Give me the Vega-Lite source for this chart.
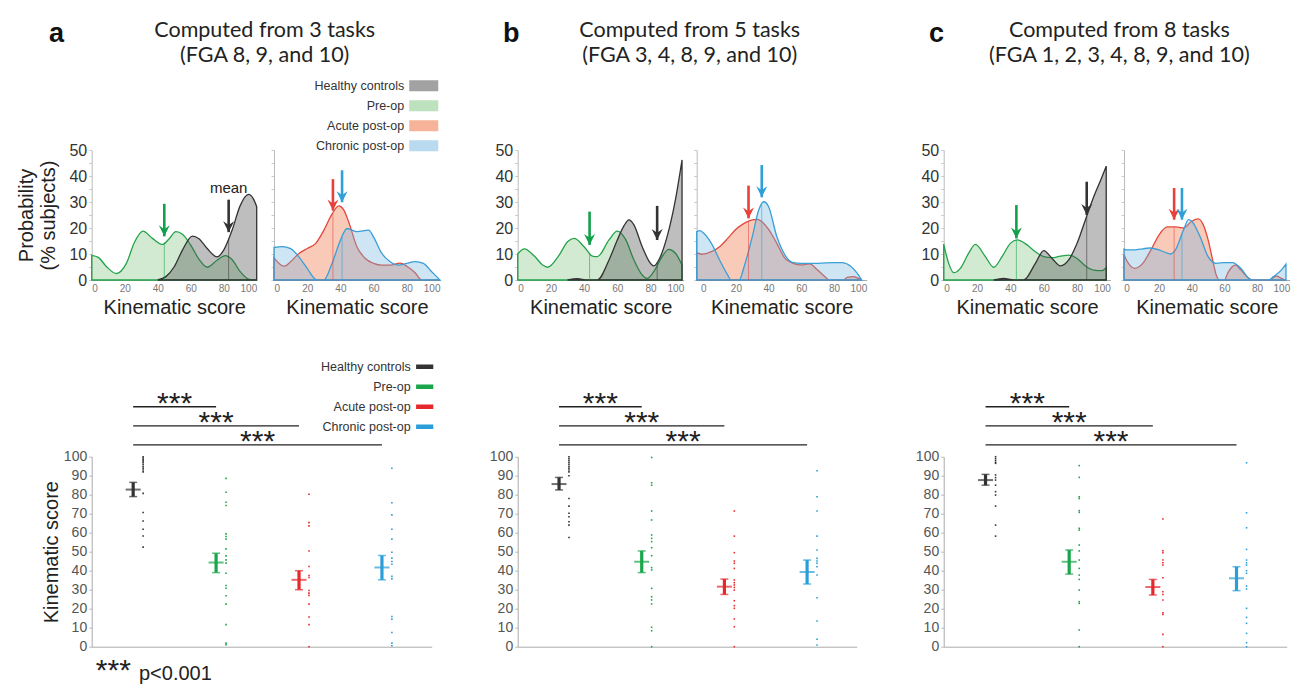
{
"$schema":"https://vega.github.io/schema/vega-lite/v6.json",
"autosize":{"type":"none"},
"padding":{"left":91.7,"top":150,"right":1217.3,"bottom":537},
"background":"white",
"config":{"view":{"stroke":null},"axis":{"grid":false,"labelOverlap":false,"labelFont":"Liberation Sans","titleFont":"Liberation Sans","titleFontWeight":"normal"},"title":{"font":"Lato","fontWeight":"normal","color":"#222"},"legend":{"labelFont":"Liberation Sans"},"text":{"font":"Liberation Sans"}},
"datasets":{
"dens":[
{"p":"a","s":"L","g":"P","k":0,"v":9.5},{"p":"a","s":"L","g":"P","k":4,"v":8.7},{"p":"a","s":"L","g":"P","k":9,"v":5.1},{"p":"a","s":"L","g":"P","k":15,"v":2.5},{"p":"a","s":"L","g":"P","k":21,"v":6.4},{"p":"a","s":"L","g":"P","k":26,"v":14.6},{"p":"a","s":"L","g":"P","k":31,"v":18.8},{"p":"a","s":"L","g":"P","k":37,"v":15.9},{"p":"a","s":"L","g":"P","k":43,"v":13.7},{"p":"a","s":"L","g":"P","k":47,"v":15.9},{"p":"a","s":"L","g":"P","k":51,"v":18.6},{"p":"a","s":"L","g":"P","k":55,"v":17.6},{"p":"a","s":"L","g":"P","k":60,"v":13.4},{"p":"a","s":"L","g":"P","k":65,"v":8},{"p":"a","s":"L","g":"P","k":70,"v":4.9},{"p":"a","s":"L","g":"P","k":76,"v":7.6},{"p":"a","s":"L","g":"P","k":81,"v":9.4},{"p":"a","s":"L","g":"P","k":85,"v":7.9},{"p":"a","s":"L","g":"P","k":90,"v":3.2},{"p":"a","s":"L","g":"P","k":95,"v":0.3},{"p":"a","s":"L","g":"P","k":97,"v":0},{"p":"a","s":"L","g":"P","k":100,"v":0},
{"p":"a","s":"L","g":"H","k":40,"v":0},{"p":"a","s":"L","g":"H","k":45,"v":1.3},{"p":"a","s":"L","g":"H","k":50,"v":5.1},{"p":"a","s":"L","g":"H","k":55,"v":11.5},{"p":"a","s":"L","g":"H","k":61,"v":16.9},{"p":"a","s":"L","g":"H","k":65,"v":15.9},{"p":"a","s":"L","g":"H","k":70,"v":12.1},{"p":"a","s":"L","g":"H","k":76,"v":8.9},{"p":"a","s":"L","g":"H","k":80,"v":11.5},{"p":"a","s":"L","g":"H","k":85,"v":19},{"p":"a","s":"L","g":"H","k":90,"v":28.6},{"p":"a","s":"L","g":"H","k":95,"v":32.9},{"p":"a","s":"L","g":"H","k":98,"v":31.2},{"p":"a","s":"L","g":"H","k":100,"v":28.2},
{"p":"a","s":"R","g":"A","k":0,"v":8.5},{"p":"a","s":"R","g":"A","k":6,"v":5.3},{"p":"a","s":"R","g":"A","k":10,"v":7},{"p":"a","s":"R","g":"A","k":15,"v":10.2},{"p":"a","s":"R","g":"A","k":20,"v":12.1},{"p":"a","s":"R","g":"A","k":25,"v":14},{"p":"a","s":"R","g":"A","k":30,"v":19.1},{"p":"a","s":"R","g":"A","k":35,"v":25.4},{"p":"a","s":"R","g":"A","k":39,"v":28.5},{"p":"a","s":"R","g":"A","k":42,"v":27},{"p":"a","s":"R","g":"A","k":45,"v":22.3},{"p":"a","s":"R","g":"A","k":50,"v":12.7},{"p":"a","s":"R","g":"A","k":55,"v":8.3},{"p":"a","s":"R","g":"A","k":60,"v":6.4},{"p":"a","s":"R","g":"A","k":65,"v":5.7},{"p":"a","s":"R","g":"A","k":70,"v":5.7},{"p":"a","s":"R","g":"A","k":76,"v":6.5},{"p":"a","s":"R","g":"A","k":80,"v":5.3},{"p":"a","s":"R","g":"A","k":85,"v":2.8},{"p":"a","s":"R","g":"A","k":89,"v":0},{"p":"a","s":"R","g":"A","k":100,"v":0},
{"p":"a","s":"R","g":"C","k":0,"v":12.5},{"p":"a","s":"R","g":"C","k":5,"v":12.8},{"p":"a","s":"R","g":"C","k":10,"v":12.1},{"p":"a","s":"R","g":"C","k":15,"v":8.9},{"p":"a","s":"R","g":"C","k":20,"v":4.5},{"p":"a","s":"R","g":"C","k":25,"v":0.3},{"p":"a","s":"R","g":"C","k":27,"v":0},{"p":"a","s":"R","g":"C","k":30,"v":0},{"p":"a","s":"R","g":"C","k":35,"v":6.4},{"p":"a","s":"R","g":"C","k":40,"v":15.3},{"p":"a","s":"R","g":"C","k":44,"v":19.8},{"p":"a","s":"R","g":"C","k":50,"v":18.6},{"p":"a","s":"R","g":"C","k":57,"v":19.2},{"p":"a","s":"R","g":"C","k":60,"v":16.5},{"p":"a","s":"R","g":"C","k":65,"v":10.2},{"p":"a","s":"R","g":"C","k":70,"v":7},{"p":"a","s":"R","g":"C","k":75,"v":5.7},{"p":"a","s":"R","g":"C","k":80,"v":6.4},{"p":"a","s":"R","g":"C","k":85,"v":7.1},{"p":"a","s":"R","g":"C","k":90,"v":6.4},{"p":"a","s":"R","g":"C","k":95,"v":3.2},{"p":"a","s":"R","g":"C","k":100,"v":0},
{"p":"b","s":"L","g":"P","k":0,"v":10},{"p":"b","s":"L","g":"P","k":4,"v":12},{"p":"b","s":"L","g":"P","k":10,"v":9.2},{"p":"b","s":"L","g":"P","k":15,"v":5.8},{"p":"b","s":"L","g":"P","k":18,"v":4.9},{"p":"b","s":"L","g":"P","k":25,"v":9.6},{"p":"b","s":"L","g":"P","k":30,"v":14.7},{"p":"b","s":"L","g":"P","k":34,"v":16},{"p":"b","s":"L","g":"P","k":40,"v":12.8},{"p":"b","s":"L","g":"P","k":45,"v":9.2},{"p":"b","s":"L","g":"P","k":48,"v":9},{"p":"b","s":"L","g":"P","k":55,"v":15.4},{"p":"b","s":"L","g":"P","k":60,"v":18.8},{"p":"b","s":"L","g":"P","k":65,"v":15.6},{"p":"b","s":"L","g":"P","k":70,"v":7.7},{"p":"b","s":"L","g":"P","k":75,"v":1.9},{"p":"b","s":"L","g":"P","k":78,"v":0.6},{"p":"b","s":"L","g":"P","k":82,"v":3.2},{"p":"b","s":"L","g":"P","k":87,"v":9},{"p":"b","s":"L","g":"P","k":91,"v":11.8},{"p":"b","s":"L","g":"P","k":95,"v":10.3},{"p":"b","s":"L","g":"P","k":99,"v":5.8},
{"p":"b","s":"L","g":"H","k":30,"v":0},{"p":"b","s":"L","g":"H","k":36,"v":0.5},{"p":"b","s":"L","g":"H","k":42,"v":0},{"p":"b","s":"L","g":"H","k":48,"v":0},{"p":"b","s":"L","g":"H","k":55,"v":7.7},{"p":"b","s":"L","g":"H","k":60,"v":15.4},{"p":"b","s":"L","g":"H","k":64,"v":20.8},{"p":"b","s":"L","g":"H","k":67,"v":23.1},{"p":"b","s":"L","g":"H","k":70,"v":21.2},{"p":"b","s":"L","g":"H","k":75,"v":12.8},{"p":"b","s":"L","g":"H","k":80,"v":6.4},{"p":"b","s":"L","g":"H","k":82,"v":5.4},{"p":"b","s":"L","g":"H","k":85,"v":7.7},{"p":"b","s":"L","g":"H","k":90,"v":16.7},{"p":"b","s":"L","g":"H","k":95,"v":30.8},{"p":"b","s":"L","g":"H","k":99,"v":46.2},
{"p":"b","s":"R","g":"A","k":-4,"v":10.5},{"p":"b","s":"R","g":"A","k":-1,"v":9.9},{"p":"b","s":"R","g":"A","k":5,"v":10.9},{"p":"b","s":"R","g":"A","k":10,"v":12.8},{"p":"b","s":"R","g":"A","k":15,"v":16},{"p":"b","s":"R","g":"A","k":20,"v":19.5},{"p":"b","s":"R","g":"A","k":25,"v":21.8},{"p":"b","s":"R","g":"A","k":30,"v":23.1},{"p":"b","s":"R","g":"A","k":33,"v":23.3},{"p":"b","s":"R","g":"A","k":35,"v":22.8},{"p":"b","s":"R","g":"A","k":40,"v":19.5},{"p":"b","s":"R","g":"A","k":45,"v":14.1},{"p":"b","s":"R","g":"A","k":50,"v":8.3},{"p":"b","s":"R","g":"A","k":55,"v":6.4},{"p":"b","s":"R","g":"A","k":60,"v":5.8},{"p":"b","s":"R","g":"A","k":65,"v":6.2},{"p":"b","s":"R","g":"A","k":70,"v":3.8},{"p":"b","s":"R","g":"A","k":75,"v":1},{"p":"b","s":"R","g":"A","k":77,"v":0},{"p":"b","s":"R","g":"A","k":86,"v":0},{"p":"b","s":"R","g":"A","k":88,"v":1},{"p":"b","s":"R","g":"A","k":92,"v":1.3},{"p":"b","s":"R","g":"A","k":95,"v":0.6},{"p":"b","s":"R","g":"A","k":97,"v":0},
{"p":"b","s":"R","g":"C","k":-4,"v":18.6},{"p":"b","s":"R","g":"C","k":-2,"v":19},{"p":"b","s":"R","g":"C","k":0,"v":18.2},{"p":"b","s":"R","g":"C","k":5,"v":14.1},{"p":"b","s":"R","g":"C","k":10,"v":7.7},{"p":"b","s":"R","g":"C","k":15,"v":1.9},{"p":"b","s":"R","g":"C","k":17,"v":0},{"p":"b","s":"R","g":"C","k":22,"v":0},{"p":"b","s":"R","g":"C","k":25,"v":5.1},{"p":"b","s":"R","g":"C","k":30,"v":16.7},{"p":"b","s":"R","g":"C","k":34,"v":27},{"p":"b","s":"R","g":"C","k":37,"v":30.1},{"p":"b","s":"R","g":"C","k":40,"v":28.2},{"p":"b","s":"R","g":"C","k":45,"v":16.7},{"p":"b","s":"R","g":"C","k":50,"v":9.6},{"p":"b","s":"R","g":"C","k":55,"v":6.7},{"p":"b","s":"R","g":"C","k":60,"v":6.4},{"p":"b","s":"R","g":"C","k":70,"v":6.4},{"p":"b","s":"R","g":"C","k":80,"v":6.7},{"p":"b","s":"R","g":"C","k":85,"v":6.7},{"p":"b","s":"R","g":"C","k":90,"v":5.4},{"p":"b","s":"R","g":"C","k":95,"v":1.9},{"p":"b","s":"R","g":"C","k":97,"v":0},
{"p":"c","s":"L","g":"P","k":0,"v":13.8},{"p":"c","s":"L","g":"P","k":3,"v":6.4},{"p":"c","s":"L","g":"P","k":6,"v":2.8},{"p":"c","s":"L","g":"P","k":10,"v":4.5},{"p":"c","s":"L","g":"P","k":15,"v":10.3},{"p":"c","s":"L","g":"P","k":19,"v":13.7},{"p":"c","s":"L","g":"P","k":25,"v":9},{"p":"c","s":"L","g":"P","k":30,"v":4.9},{"p":"c","s":"L","g":"P","k":35,"v":9},{"p":"c","s":"L","g":"P","k":40,"v":14.1},{"p":"c","s":"L","g":"P","k":44,"v":15.4},{"p":"c","s":"L","g":"P","k":50,"v":13.5},{"p":"c","s":"L","g":"P","k":55,"v":10.9},{"p":"c","s":"L","g":"P","k":60,"v":9},{"p":"c","s":"L","g":"P","k":65,"v":8.6},{"p":"c","s":"L","g":"P","k":70,"v":9.2},{"p":"c","s":"L","g":"P","k":75,"v":9.6},{"p":"c","s":"L","g":"P","k":80,"v":8.3},{"p":"c","s":"L","g":"P","k":85,"v":5.4},{"p":"c","s":"L","g":"P","k":90,"v":3.8},{"p":"c","s":"L","g":"P","k":95,"v":3.6},{"p":"c","s":"L","g":"P","k":97.5,"v":4.7},
{"p":"c","s":"L","g":"H","k":30,"v":0},{"p":"c","s":"L","g":"H","k":36,"v":0.6},{"p":"c","s":"L","g":"H","k":42,"v":0},{"p":"c","s":"L","g":"H","k":48,"v":0},{"p":"c","s":"L","g":"H","k":55,"v":6.4},{"p":"c","s":"L","g":"H","k":60,"v":11.3},{"p":"c","s":"L","g":"H","k":65,"v":8.3},{"p":"c","s":"L","g":"H","k":70,"v":5.4},{"p":"c","s":"L","g":"H","k":75,"v":7.7},{"p":"c","s":"L","g":"H","k":80,"v":14.1},{"p":"c","s":"L","g":"H","k":85,"v":23.1},{"p":"c","s":"L","g":"H","k":90,"v":32},{"p":"c","s":"L","g":"H","k":95,"v":39.7},{"p":"c","s":"L","g":"H","k":97.5,"v":43.8},
{"p":"c","s":"R","g":"A","k":-1.5,"v":9.7},{"p":"c","s":"R","g":"A","k":0,"v":7.7},{"p":"c","s":"R","g":"A","k":5,"v":4.5},{"p":"c","s":"R","g":"A","k":10,"v":6.4},{"p":"c","s":"R","g":"A","k":15,"v":11.6},{"p":"c","s":"R","g":"A","k":20,"v":17.4},{"p":"c","s":"R","g":"A","k":25,"v":20.4},{"p":"c","s":"R","g":"A","k":30,"v":20.4},{"p":"c","s":"R","g":"A","k":35,"v":20},{"p":"c","s":"R","g":"A","k":40,"v":22.6},{"p":"c","s":"R","g":"A","k":44,"v":23.5},{"p":"c","s":"R","g":"A","k":47,"v":21.3},{"p":"c","s":"R","g":"A","k":50,"v":15.5},{"p":"c","s":"R","g":"A","k":53,"v":7.1},{"p":"c","s":"R","g":"A","k":55,"v":1.9},{"p":"c","s":"R","g":"A","k":57,"v":0},{"p":"c","s":"R","g":"A","k":60,"v":0},{"p":"c","s":"R","g":"A","k":62,"v":2.6},{"p":"c","s":"R","g":"A","k":65,"v":5.2},{"p":"c","s":"R","g":"A","k":67,"v":5.7},{"p":"c","s":"R","g":"A","k":70,"v":3.9},{"p":"c","s":"R","g":"A","k":75,"v":0.6},{"p":"c","s":"R","g":"A","k":77,"v":0},{"p":"c","s":"R","g":"A","k":88,"v":0},{"p":"c","s":"R","g":"A","k":90,"v":1},{"p":"c","s":"R","g":"A","k":92,"v":1.5},{"p":"c","s":"R","g":"A","k":95,"v":0.6},{"p":"c","s":"R","g":"A","k":97,"v":0},
{"p":"c","s":"R","g":"C","k":-1.5,"v":11.9},{"p":"c","s":"R","g":"C","k":0,"v":11.6},{"p":"c","s":"R","g":"C","k":5,"v":11.6},{"p":"c","s":"R","g":"C","k":10,"v":12},{"p":"c","s":"R","g":"C","k":14,"v":12.3},{"p":"c","s":"R","g":"C","k":20,"v":11.6},{"p":"c","s":"R","g":"C","k":25,"v":10.3},{"p":"c","s":"R","g":"C","k":27,"v":10},{"p":"c","s":"R","g":"C","k":30,"v":11.6},{"p":"c","s":"R","g":"C","k":35,"v":19.3},{"p":"c","s":"R","g":"C","k":38,"v":23.2},{"p":"c","s":"R","g":"C","k":40,"v":22.6},{"p":"c","s":"R","g":"C","k":45,"v":16.8},{"p":"c","s":"R","g":"C","k":50,"v":9},{"p":"c","s":"R","g":"C","k":55,"v":6.4},{"p":"c","s":"R","g":"C","k":60,"v":6.7},{"p":"c","s":"R","g":"C","k":65,"v":6.7},{"p":"c","s":"R","g":"C","k":70,"v":4.5},{"p":"c","s":"R","g":"C","k":75,"v":0.6},{"p":"c","s":"R","g":"C","k":77,"v":0},{"p":"c","s":"R","g":"C","k":87,"v":0},{"p":"c","s":"R","g":"C","k":90,"v":1.3},{"p":"c","s":"R","g":"C","k":95,"v":3.9},{"p":"c","s":"R","g":"C","k":97.7,"v":6.1}
],
"mline":[
{"p":"a","s":"L","g":"P","m":44,"z":0,"h":14.5},{"p":"a","s":"L","g":"H","m":83,"z":0,"h":15.7},{"p":"a","s":"R","g":"A","m":35.5,"z":0,"h":25.6},{"p":"a","s":"R","g":"C","m":41,"z":0,"h":16.5},
{"p":"b","s":"L","g":"P","m":43.3,"z":0,"h":10.4},{"p":"b","s":"L","g":"H","m":84,"z":0,"h":6.8},{"p":"b","s":"R","g":"A","m":27.7,"z":0,"h":22.5},{"p":"b","s":"R","g":"C","m":35.8,"z":0,"h":28.8},
{"p":"c","s":"L","g":"P","m":43.6,"z":0,"h":15.3},{"p":"c","s":"L","g":"H","m":85.8,"z":0,"h":24.5},{"p":"c","s":"R","g":"A","m":29.2,"z":0,"h":20.4},{"p":"c","s":"R","g":"C","m":34,"z":0,"h":17.8}
],
"arrows":[
{"p":"a","s":"L","g":"P","m":44,"top":29.3,"tip":16.8},{"p":"a","s":"L","g":"H","m":83,"top":30.9,"tip":18.4},{"p":"a","s":"R","g":"A","m":35.5,"top":38.8,"tip":26.7},{"p":"a","s":"R","g":"C","m":41,"top":42.2,"tip":29.9},
{"p":"b","s":"L","g":"P","m":43.3,"top":26.3,"tip":13.5},{"p":"b","s":"L","g":"H","m":84,"top":28.5,"tip":15.4},{"p":"b","s":"R","g":"A","m":27.7,"top":36.3,"tip":23.7},{"p":"b","s":"R","g":"C","m":35.8,"top":44.2,"tip":31.8},
{"p":"c","s":"L","g":"P","m":43.6,"top":28.8,"tip":16},{"p":"c","s":"L","g":"H","m":85.8,"top":37.8,"tip":25},{"p":"c","s":"R","g":"A","m":29.2,"top":35.4,"tip":23.2},{"p":"c","s":"R","g":"C","m":34,"top":35.4,"tip":23.2}
],
"pts":[
{"p":"a","g":"H","s":100},{"p":"a","g":"H","s":99.3},{"p":"a","g":"H","s":98.6},{"p":"a","g":"H","s":97.8},{"p":"a","g":"H","s":97},{"p":"a","g":"H","s":96},{"p":"a","g":"H","s":95},{"p":"a","g":"H","s":94},{"p":"a","g":"H","s":93},{"p":"a","g":"H","s":92},{"p":"a","g":"H","s":80.7},{"p":"a","g":"H","s":70.6},{"p":"a","g":"H","s":66.2},{"p":"a","g":"H","s":61.8},{"p":"a","g":"H","s":58.3},{"p":"a","g":"H","s":52.4},
{"p":"a","g":"P","s":88.6},{"p":"a","g":"P","s":81.3},{"p":"a","g":"P","s":76},{"p":"a","g":"P","s":74.3},{"p":"a","g":"P","s":59.4},{"p":"a","g":"P","s":58},{"p":"a","g":"P","s":56.6},{"p":"a","g":"P","s":51.5},{"p":"a","g":"P","s":47.8},{"p":"a","g":"P","s":45.7},{"p":"a","g":"P","s":44},{"p":"a","g":"P","s":38.7},{"p":"a","g":"P","s":32.2},{"p":"a","g":"P","s":30.8},{"p":"a","g":"P","s":26.8},{"p":"a","g":"P","s":22.4},{"p":"a","g":"P","s":11.6},{"p":"a","g":"P","s":1.9},{"p":"a","g":"P","s":1},
{"p":"a","g":"A","s":80.2},{"p":"a","g":"A","s":65.3},{"p":"a","g":"A","s":63.6},{"p":"a","g":"A","s":50.4},{"p":"a","g":"A","s":42.2},{"p":"a","g":"A","s":37.5},{"p":"a","g":"A","s":36.4},{"p":"a","g":"A","s":29.6},{"p":"a","g":"A","s":28.2},{"p":"a","g":"A","s":27},{"p":"a","g":"A","s":22.4},{"p":"a","g":"A","s":15.6},{"p":"a","g":"A","s":11.6},{"p":"a","g":"A","s":0},
{"p":"a","g":"C","s":93.9},{"p":"a","g":"C","s":75.8},{"p":"a","g":"C","s":69.4},{"p":"a","g":"C","s":61.8},{"p":"a","g":"C","s":56.6},{"p":"a","g":"C","s":49.7},{"p":"a","g":"C","s":46.6},{"p":"a","g":"C","s":44.8},{"p":"a","g":"C","s":43.4},{"p":"a","g":"C","s":37},{"p":"a","g":"C","s":35.7},{"p":"a","g":"C","s":15.9},{"p":"a","g":"C","s":14.5},{"p":"a","g":"C","s":7.5},{"p":"a","g":"C","s":1.9},{"p":"a","g":"C","s":0.5},
{"p":"b","g":"H","s":100},{"p":"b","g":"H","s":99},{"p":"b","g":"H","s":98},{"p":"b","g":"H","s":97},{"p":"b","g":"H","s":96},{"p":"b","g":"H","s":95},{"p":"b","g":"H","s":94},{"p":"b","g":"H","s":93},{"p":"b","g":"H","s":92},{"p":"b","g":"H","s":90},{"p":"b","g":"H","s":78},{"p":"b","g":"H","s":74},{"p":"b","g":"H","s":70.2},{"p":"b","g":"H","s":68.4},{"p":"b","g":"H","s":65.8},{"p":"b","g":"H","s":64},{"p":"b","g":"H","s":57.5},
{"p":"b","g":"P","s":99.6},{"p":"b","g":"P","s":86.3},{"p":"b","g":"P","s":85},{"p":"b","g":"P","s":71.4},{"p":"b","g":"P","s":66.7},{"p":"b","g":"P","s":58.8},{"p":"b","g":"P","s":57},{"p":"b","g":"P","s":55.3},{"p":"b","g":"P","s":52.1},{"p":"b","g":"P","s":47.9},{"p":"b","g":"P","s":41.6},{"p":"b","g":"P","s":40.4},{"p":"b","g":"P","s":30.7},{"p":"b","g":"P","s":26.3},{"p":"b","g":"P","s":24.6},{"p":"b","g":"P","s":22.5},{"p":"b","g":"P","s":10.2},{"p":"b","g":"P","s":8.4},{"p":"b","g":"P","s":0},
{"p":"b","g":"A","s":71.4},{"p":"b","g":"A","s":58.2},{"p":"b","g":"A","s":49.5},{"p":"b","g":"A","s":45.1},{"p":"b","g":"A","s":43.9},{"p":"b","g":"A","s":41.2},{"p":"b","g":"A","s":35.1},{"p":"b","g":"A","s":33.7},{"p":"b","g":"A","s":32.5},{"p":"b","g":"A","s":31.2},{"p":"b","g":"A","s":29.8},{"p":"b","g":"A","s":24.2},{"p":"b","g":"A","s":21.6},{"p":"b","g":"A","s":20.2},{"p":"b","g":"A","s":14.6},{"p":"b","g":"A","s":10.5},{"p":"b","g":"A","s":0},
{"p":"b","g":"C","s":92.6},{"p":"b","g":"C","s":78.9},{"p":"b","g":"C","s":71.4},{"p":"b","g":"C","s":58.2},{"p":"b","g":"C","s":50.9},{"p":"b","g":"C","s":46.5},{"p":"b","g":"C","s":45.1},{"p":"b","g":"C","s":43.9},{"p":"b","g":"C","s":42.1},{"p":"b","g":"C","s":37.7},{"p":"b","g":"C","s":25.8},{"p":"b","g":"C","s":13.5},{"p":"b","g":"C","s":3.9},{"p":"b","g":"C","s":0.9},
{"p":"c","g":"H","s":100},{"p":"c","g":"H","s":99},{"p":"c","g":"H","s":98},{"p":"c","g":"H","s":97},{"p":"c","g":"H","s":96.5},{"p":"c","g":"H","s":90.4},{"p":"c","g":"H","s":89},{"p":"c","g":"H","s":87.7},{"p":"c","g":"H","s":85},{"p":"c","g":"H","s":81.6},{"p":"c","g":"H","s":79.8},{"p":"c","g":"H","s":74},{"p":"c","g":"H","s":64},{"p":"c","g":"H","s":58.2},
{"p":"c","g":"P","s":95.3},{"p":"c","g":"P","s":89.1},{"p":"c","g":"P","s":78.9},{"p":"c","g":"P","s":78},{"p":"c","g":"P","s":71.6},{"p":"c","g":"P","s":70.7},{"p":"c","g":"P","s":62.3},{"p":"c","g":"P","s":61.4},{"p":"c","g":"P","s":53.5},{"p":"c","g":"P","s":50.4},{"p":"c","g":"P","s":45.6},{"p":"c","g":"P","s":41.2},{"p":"c","g":"P","s":37.7},{"p":"c","g":"P","s":35.4},{"p":"c","g":"P","s":29.8},{"p":"c","g":"P","s":23.7},{"p":"c","g":"P","s":22.8},{"p":"c","g":"P","s":8.8},{"p":"c","g":"P","s":0},
{"p":"c","g":"A","s":67.2},{"p":"c","g":"A","s":50.5},{"p":"c","g":"A","s":49.5},{"p":"c","g":"A","s":45.6},{"p":"c","g":"A","s":44.2},{"p":"c","g":"A","s":43},{"p":"c","g":"A","s":36.3},{"p":"c","g":"A","s":28.9},{"p":"c","g":"A","s":27.5},{"p":"c","g":"A","s":24.6},{"p":"c","g":"A","s":17.9},{"p":"c","g":"A","s":17},{"p":"c","g":"A","s":6.5},{"p":"c","g":"A","s":0},
{"p":"c","g":"C","s":96.8},{"p":"c","g":"C","s":70.5},{"p":"c","g":"C","s":62.6},{"p":"c","g":"C","s":51.2},{"p":"c","g":"C","s":45.6},{"p":"c","g":"C","s":44.2},{"p":"c","g":"C","s":43},{"p":"c","g":"C","s":40},{"p":"c","g":"C","s":38.6},{"p":"c","g":"C","s":31.9},{"p":"c","g":"C","s":30.4},{"p":"c","g":"C","s":20.2},{"p":"c","g":"C","s":15.4},{"p":"c","g":"C","s":12.3},{"p":"c","g":"C","s":7},{"p":"c","g":"C","s":2.1},{"p":"c","g":"C","s":0}
],
"means":[
{"p":"a","g":"H","m":82.7,"lo":79,"hi":86.5},{"p":"a","g":"P","m":44.3,"lo":39,"hi":49.2},{"p":"a","g":"A","m":35.2,"lo":30,"hi":40},{"p":"a","g":"C","m":41.7,"lo":35.2,"hi":48},
{"p":"b","g":"H","m":85.6,"lo":82.5,"hi":89.1},{"p":"b","g":"P","m":44.7,"lo":39,"hi":50.4},{"p":"b","g":"A","m":31.6,"lo":27.5,"hi":35.6},{"p":"b","g":"C","m":39.3,"lo":33,"hi":45.6},
{"p":"c","g":"H","m":87.7,"lo":85,"hi":90.7},{"p":"c","g":"P","m":44.7,"lo":38.2,"hi":50.9},{"p":"c","g":"A","m":31.4,"lo":27.2,"hi":35.4},{"p":"c","g":"C","m":36,"lo":29.5,"hi":42.1}
],
"sig":[{"from":"H","to":"P","lv":126.3},{"from":"H","to":"A","lv":116.2},{"from":"H","to":"C","lv":106.2}],
"stars":[{"at":"H","pos":"edge","lv":126.3},{"at":"P","pos":"mid","lv":116.2},{"at":"P","pos":"edge","lv":106.2}],
"notes":[{"at":"H","t":"***","z":0},{"at":"H","t":"p<0.001","z":0}],
"meanlabel":[{"t":"mean","k":83,"v":35.5}]
},
"bounds":"flush","spacing":426,
"resolve":{"scale":{"color":"independent","fill":"independent","stroke":"independent"}},
"hconcat":[
{"bounds":"flush","spacing":306.7,"resolve":{"scale":{"color":"independent","fill":"independent","stroke":"independent"}},
"vconcat":[
{"bounds":"flush","spacing":17.3,"resolve":{"scale":{"color":"independent","fill":"independent","stroke":"independent"}},
"title":{"text":"a","anchor":"start","frame":"bounds","fontSize":27,"fontWeight":"bold","font":"Liberation Sans","color":"#111","dx":32,"dy":23,"offset":-5},
"hconcat":[
{"width":165,"height":130,
"title":{"text":["Computed from 3 tasks","(FGA 8, 9, and 10)"],"anchor":"end","align":"center","frame":"group","dx":8,"fontSize":21.5,"lineHeight":24.5,"offset":76},
"layer":[
{"data":{"name":"dens"},"transform":[{"filter":"datum.p==='a'&&datum.s==='L'"}],"mark":{"type":"area","interpolate":"monotone","fillOpacity":0.35,"strokeWidth":1.3},
"encoding":{"x":{"field":"k","type":"quantitative","scale":{"domain":[0,100],"nice":false,"zero":false},"axis":{"values":[0,20,40,60,80,100],"tickCount":30,"labelOverlap":false,"labelFontSize":10,"labelColor":"#777","ticks":false,"labelPadding":3,"title":"Kinematic score","titleFontSize":20,"titlePadding":4,"titleColor":"#222","domainColor":"#aaa"}},
"y":{"field":"v","type":"quantitative","stack":null,"scale":{"domain":[0,50],"nice":false},"axis":{"values":[0,5,10,15,20,25,30,35,40,45,50],"tickCount":30,"labelOverlap":false,"labelExpr":"datum.value%10?'':datum.label","labelFontSize":16,"labelColor":"#333","tickSize":3,"tickColor":"#ccc","domainColor":"#bbb","title":["Probability","(% subjects)"],"titleFontSize":20,"titlePadding":10,"titleColor":"#222"}},
"fill":{"field":"g","type":"nominal","scale":{"domain":["H","P","A","C"],"range":["#454545","#7ec37e","#ee6834","#73b5e0"]},"legend":null},
"stroke":{"field":"g","type":"nominal","scale":{"domain":["H","P","A","C"],"range":["#333333","#22a34a","#e2483c","#3a9fd6"]},"legend":null}}},
{"data":{"name":"mline"},"transform":[{"filter":"datum.p==='a'&&datum.s==='L'"}],"mark":{"type":"rule","strokeWidth":1,"opacity":0.55},
"encoding":{"x":{"field":"m","type":"quantitative"},"y":{"field":"z","type":"quantitative"},"y2":{"field":"h"},"color":{"field":"g","type":"nominal","scale":{"domain":["H","P","A","C"],"range":["#333333","#13a04a","#e8413c","#2f9fd8"]},"legend":null}}},
{"data":{"name":"arrows"},"transform":[{"filter":"datum.p==='a'&&datum.s==='L'"}],"mark":{"type":"rule","strokeWidth":2.6},
"encoding":{"x":{"field":"m","type":"quantitative"},"y":{"field":"top","type":"quantitative"},"y2":{"field":"tip"},"color":{"field":"g","type":"nominal","legend":null}}},
{"data":{"name":"arrows"},"transform":[{"filter":"datum.p==='a'&&datum.s==='L'"}],"mark":{"type":"point","shape":"M-1,-2L0,0L1,-2L0,-1.3Z","filled":true,"size":121,"opacity":1},
"encoding":{"x":{"field":"m","type":"quantitative"},"y":{"field":"tip","type":"quantitative"},"color":{"field":"g","type":"nominal","legend":null}}},
{"data":{"name":"meanlabel"},"mark":{"type":"text","fontSize":15,"color":"#222","baseline":"middle"},"encoding":{"x":{"field":"k","type":"quantitative"},"y":{"field":"v","type":"quantitative"},"text":{"field":"t"}}}
]},
{"width":166,"height":130,
"layer":[
{"data":{"name":"dens"},"transform":[{"filter":"datum.p==='a'&&datum.s==='R'"}],"mark":{"type":"area","interpolate":"monotone","fillOpacity":0.35,"strokeWidth":1.3},
"encoding":{"x":{"field":"k","type":"quantitative","scale":{"domain":[0,100],"nice":false,"zero":false},"axis":{"values":[0,20,40,60,80,100],"tickCount":30,"labelOverlap":false,"labelFontSize":10,"labelColor":"#777","ticks":false,"labelPadding":3,"title":"Kinematic score","titleFontSize":20,"titlePadding":4,"titleColor":"#222","domainColor":"#aaa"}},
"y":{"field":"v","type":"quantitative","stack":null,"scale":{"domain":[0,50],"nice":false},"axis":{"values":[0,5,10,15,20,25,30,35,40,45,50],"tickCount":30,"labels":false,"tickSize":3,"tickColor":"#ccc","domainColor":"#bbb","title":null}},
"fill":{"field":"g","type":"nominal","scale":{"domain":["H","P","A","C"],"range":["#454545","#7ec37e","#ee6834","#73b5e0"]},"legend":{"orient":"none","legendX":143.5,"legendY":-70.5,"title":null,"symbolType":"M-2.9,-1.1H2.9V1.1H-2.9Z","symbolSize":100,"symbolStrokeWidth":0,"symbolOpacity":0.5,"labelAlign":"right","labelOffset":-25.8,"labelFontSize":12.5,"labelColor":"#333","rowPadding":7,"labelExpr":"datum.label==='H'?'Healthy controls':datum.label==='P'?'Pre-op':datum.label==='A'?'Acute post-op':'Chronic post-op'"}},
"stroke":{"field":"g","type":"nominal","scale":{"domain":["H","P","A","C"],"range":["#333333","#22a34a","#e2483c","#3a9fd6"]},"legend":null}}},
{"data":{"name":"mline"},"transform":[{"filter":"datum.p==='a'&&datum.s==='R'"}],"mark":{"type":"rule","strokeWidth":1,"opacity":0.55},
"encoding":{"x":{"field":"m","type":"quantitative"},"y":{"field":"z","type":"quantitative"},"y2":{"field":"h"},"color":{"field":"g","type":"nominal","scale":{"domain":["H","P","A","C"],"range":["#333333","#13a04a","#e8413c","#2f9fd8"]},"legend":null}}},
{"data":{"name":"arrows"},"transform":[{"filter":"datum.p==='a'&&datum.s==='R'"}],"mark":{"type":"rule","strokeWidth":2.6},
"encoding":{"x":{"field":"m","type":"quantitative"},"y":{"field":"top","type":"quantitative"},"y2":{"field":"tip"},"color":{"field":"g","type":"nominal","legend":null}}},
{"data":{"name":"arrows"},"transform":[{"filter":"datum.p==='a'&&datum.s==='R'"}],"mark":{"type":"point","shape":"M-1,-2L0,0L1,-2L0,-1.3Z","filled":true,"size":121,"opacity":1},
"encoding":{"x":{"field":"m","type":"quantitative"},"y":{"field":"tip","type":"quantitative"},"color":{"field":"g","type":"nominal","legend":null}}}
]}
]},
{"width":340,"height":190,
"layer":[
{"data":{"name":"pts"},"transform":[{"filter":"datum.p==='a'"}],"mark":{"type":"square","size":2.5,"opacity":1},
"encoding":{"x":{"field":"g","type":"nominal","bandPosition":0.62,"scale":{"type":"band","domain":["H","P","A","C"],"paddingInner":0,"paddingOuter":0.05,"align":0},"axis":{"labels":false,"ticks":false,"title":null,"domainColor":"#aaa"}},
"y":{"field":"s","type":"quantitative","scale":{"domain":[0,100],"nice":false},"axis":{"values":[0,10,20,30,40,50,60,70,80,90,100],"tickCount":30,"labelOverlap":false,"labelFontSize":14,"labelColor":"#555","tickSize":3,"tickColor":"#bbb","domainColor":"#aaa","title":"Kinematic score","titleFontSize":20,"titlePadding":2,"titleColor":"#222"}},
"fill":{"field":"g","type":"nominal","scale":{"domain":["H","P","A","C"],"range":["#333333","#19a64b","#e6282d","#2a9ed8"]},"legend":{"orient":"none","legendX":324,"legendY":-99,"title":null,"symbolType":"M-1,-0.2H1V0.2H-1Z","symbolSize":246,"labelAlign":"right","labelOffset":-23,"labelFontSize":12.5,"labelColor":"#333","rowPadding":4,"labelExpr":"datum.label==='H'?'Healthy controls':datum.label==='P'?'Pre-op':datum.label==='A'?'Acute post-op':'Chronic post-op'"}}}},
{"data":{"name":"means"},"transform":[{"filter":"datum.p==='a'"}],"mark":{"type":"rule","strokeWidth":3.2},
"encoding":{"x":{"field":"g","type":"nominal"},"y":{"field":"lo","type":"quantitative"},"y2":{"field":"hi"},"color":{"field":"g","type":"nominal","scale":{"domain":["H","P","A","C"],"range":["#333333","#19a64b","#e6282d","#2a9ed8"]},"legend":null}}},
{"data":{"name":"means"},"transform":[{"filter":"datum.p==='a'"}],"mark":{"type":"tick","orient":"horizontal","size":8,"thickness":1.5},
"encoding":{"x":{"field":"g","type":"nominal"},"y":{"field":"lo","type":"quantitative"},"color":{"field":"g","type":"nominal","legend":null}}},
{"data":{"name":"means"},"transform":[{"filter":"datum.p==='a'"}],"mark":{"type":"tick","orient":"horizontal","size":8,"thickness":1.5},
"encoding":{"x":{"field":"g","type":"nominal"},"y":{"field":"hi","type":"quantitative"},"color":{"field":"g","type":"nominal","legend":null}}},
{"data":{"name":"means"},"transform":[{"filter":"datum.p==='a'"}],"mark":{"type":"tick","orient":"horizontal","size":15,"thickness":2},
"encoding":{"x":{"field":"g","type":"nominal"},"y":{"field":"m","type":"quantitative"},"color":{"field":"g","type":"nominal","legend":null}}},
{"data":{"name":"sig"},"mark":{"type":"rule","strokeWidth":1.4,"color":"#222"},
"encoding":{"x":{"field":"from","type":"nominal","bandPosition":0.5},"x2":{"field":"to","bandPosition":0.5},"y":{"field":"lv","type":"quantitative"}}},
{"data":{"name":"stars"},"transform":[{"filter":"datum.pos==='edge'"}],"mark":{"type":"text","fontSize":30,"baseline":"alphabetic","dy":6,"color":"#222","text":"***"},
"encoding":{"x":{"field":"at","type":"nominal","bandPosition":1},"y":{"field":"lv","type":"quantitative"}}},
{"data":{"name":"stars"},"transform":[{"filter":"datum.pos==='mid'"}],"mark":{"type":"text","fontSize":30,"baseline":"alphabetic","dy":6,"color":"#222","text":"***"},
"encoding":{"x":{"field":"at","type":"nominal","bandPosition":0.5},"y":{"field":"lv","type":"quantitative"}}},
{"data":{"name":"notes"},"transform":[{"filter":"datum.t==='***'"}],"mark":{"type":"text","fontSize":30,"baseline":"alphabetic","align":"left","dy":33,"color":"#222"},
"encoding":{"x":{"field":"at","type":"nominal","bandPosition":0.05},"y":{"field":"z","type":"quantitative"},"text":{"field":"t"}}},
{"data":{"name":"notes"},"transform":[{"filter":"datum.t==='p<0.001'"}],"mark":{"type":"text","fontSize":20,"baseline":"alphabetic","align":"left","dy":33,"color":"#222"},
"encoding":{"x":{"field":"at","type":"nominal","bandPosition":0.57},"y":{"field":"z","type":"quantitative"},"text":{"field":"t"}}}
]}
]},
{"bounds":"flush","spacing":306.7,"resolve":{"scale":{"color":"independent","fill":"independent","stroke":"independent"}},
"vconcat":[
{"bounds":"flush","spacing":13,"resolve":{"scale":{"color":"independent","fill":"independent","stroke":"independent"}},
"title":{"text":"b","anchor":"start","frame":"bounds","fontSize":27,"fontWeight":"bold","font":"Liberation Sans","color":"#111","dx":8,"dy":23,"offset":-5},
"hconcat":[
{"width":166,"height":130,
"title":{"text":["Computed from 5 tasks","(FGA 3, 4, 8, 9, and 10)"],"anchor":"end","align":"center","frame":"group","dx":6,"fontSize":21.5,"lineHeight":24.5,"offset":76},
"layer":[
{"data":{"name":"dens"},"transform":[{"filter":"datum.p==='b'&&datum.s==='L'"}],"mark":{"type":"area","interpolate":"monotone","fillOpacity":0.35,"strokeWidth":1.3},
"encoding":{"x":{"field":"k","type":"quantitative","scale":{"domain":[0,100],"nice":false,"zero":false},"axis":{"values":[0,20,40,60,80,100],"tickCount":30,"labelOverlap":false,"labelFontSize":10,"labelColor":"#777","ticks":false,"labelPadding":3,"title":"Kinematic score","titleFontSize":20,"titlePadding":4,"titleColor":"#222","domainColor":"#aaa"}},
"y":{"field":"v","type":"quantitative","stack":null,"scale":{"domain":[0,50],"nice":false},"axis":{"values":[0,5,10,15,20,25,30,35,40,45,50],"tickCount":30,"labelOverlap":false,"labelExpr":"datum.value%10?'':datum.label","labelFontSize":16,"labelColor":"#333","tickSize":3,"tickColor":"#ccc","domainColor":"#bbb","title":null}},
"fill":{"field":"g","type":"nominal","scale":{"domain":["H","P","A","C"],"range":["#454545","#7ec37e","#ee6834","#73b5e0"]},"legend":null},
"stroke":{"field":"g","type":"nominal","scale":{"domain":["H","P","A","C"],"range":["#333333","#22a34a","#e2483c","#3a9fd6"]},"legend":null}}},
{"data":{"name":"mline"},"transform":[{"filter":"datum.p==='b'&&datum.s==='L'"}],"mark":{"type":"rule","strokeWidth":1,"opacity":0.55},
"encoding":{"x":{"field":"m","type":"quantitative"},"y":{"field":"z","type":"quantitative"},"y2":{"field":"h"},"color":{"field":"g","type":"nominal","scale":{"domain":["H","P","A","C"],"range":["#333333","#13a04a","#e8413c","#2f9fd8"]},"legend":null}}},
{"data":{"name":"arrows"},"transform":[{"filter":"datum.p==='b'&&datum.s==='L'"}],"mark":{"type":"rule","strokeWidth":2.6},
"encoding":{"x":{"field":"m","type":"quantitative"},"y":{"field":"top","type":"quantitative"},"y2":{"field":"tip"},"color":{"field":"g","type":"nominal","legend":null}}},
{"data":{"name":"arrows"},"transform":[{"filter":"datum.p==='b'&&datum.s==='L'"}],"mark":{"type":"point","shape":"M-1,-2L0,0L1,-2L0,-1.3Z","filled":true,"size":121,"opacity":1},
"encoding":{"x":{"field":"m","type":"quantitative"},"y":{"field":"tip","type":"quantitative"},"color":{"field":"g","type":"nominal","legend":null}}}
]},
{"width":170,"height":130,
"layer":[
{"data":{"name":"dens"},"transform":[{"filter":"datum.p==='b'&&datum.s==='R'"}],"mark":{"type":"area","interpolate":"monotone","fillOpacity":0.35,"strokeWidth":1.3},
"encoding":{"x":{"field":"k","type":"quantitative","scale":{"domain":[-4,100],"nice":false,"zero":false},"axis":{"values":[0,20,40,60,80,100],"tickCount":30,"labelOverlap":false,"labelFontSize":10,"labelColor":"#777","ticks":false,"labelPadding":3,"title":"Kinematic score","titleFontSize":20,"titlePadding":4,"titleColor":"#222","domainColor":"#aaa"}},
"y":{"field":"v","type":"quantitative","stack":null,"scale":{"domain":[0,50],"nice":false},"axis":{"values":[0,5,10,15,20,25,30,35,40,45,50],"tickCount":30,"labels":false,"tickSize":3,"tickColor":"#ccc","domainColor":"#bbb","title":null}},
"fill":{"field":"g","type":"nominal","scale":{"domain":["H","P","A","C"],"range":["#454545","#7ec37e","#ee6834","#73b5e0"]},"legend":null},
"stroke":{"field":"g","type":"nominal","scale":{"domain":["H","P","A","C"],"range":["#333333","#22a34a","#e2483c","#3a9fd6"]},"legend":null}}},
{"data":{"name":"mline"},"transform":[{"filter":"datum.p==='b'&&datum.s==='R'"}],"mark":{"type":"rule","strokeWidth":1,"opacity":0.55},
"encoding":{"x":{"field":"m","type":"quantitative"},"y":{"field":"z","type":"quantitative"},"y2":{"field":"h"},"color":{"field":"g","type":"nominal","scale":{"domain":["H","P","A","C"],"range":["#333333","#13a04a","#e8413c","#2f9fd8"]},"legend":null}}},
{"data":{"name":"arrows"},"transform":[{"filter":"datum.p==='b'&&datum.s==='R'"}],"mark":{"type":"rule","strokeWidth":2.6},
"encoding":{"x":{"field":"m","type":"quantitative"},"y":{"field":"top","type":"quantitative"},"y2":{"field":"tip"},"color":{"field":"g","type":"nominal","legend":null}}},
{"data":{"name":"arrows"},"transform":[{"filter":"datum.p==='b'&&datum.s==='R'"}],"mark":{"type":"point","shape":"M-1,-2L0,0L1,-2L0,-1.3Z","filled":true,"size":121,"opacity":1},
"encoding":{"x":{"field":"m","type":"quantitative"},"y":{"field":"tip","type":"quantitative"},"color":{"field":"g","type":"nominal","legend":null}}}
]}
]},
{"width":339,"height":190,
"layer":[
{"data":{"name":"pts"},"transform":[{"filter":"datum.p==='b'"}],"mark":{"type":"square","size":2.5,"opacity":1},
"encoding":{"x":{"field":"g","type":"nominal","bandPosition":0.62,"scale":{"type":"band","domain":["H","P","A","C"],"paddingInner":0,"paddingOuter":0.05,"align":0},"axis":{"labels":false,"ticks":false,"title":null,"domainColor":"#aaa"}},
"y":{"field":"s","type":"quantitative","scale":{"domain":[0,100],"nice":false},"axis":{"values":[0,10,20,30,40,50,60,70,80,90,100],"tickCount":30,"labelOverlap":false,"labelFontSize":14,"labelColor":"#555","tickSize":3,"tickColor":"#bbb","domainColor":"#aaa","title":null}},
"fill":{"field":"g","type":"nominal","scale":{"domain":["H","P","A","C"],"range":["#333333","#19a64b","#e6282d","#2a9ed8"]},"legend":null}}},
{"data":{"name":"means"},"transform":[{"filter":"datum.p==='b'"}],"mark":{"type":"rule","strokeWidth":3.2},
"encoding":{"x":{"field":"g","type":"nominal"},"y":{"field":"lo","type":"quantitative"},"y2":{"field":"hi"},"color":{"field":"g","type":"nominal","scale":{"domain":["H","P","A","C"],"range":["#333333","#19a64b","#e6282d","#2a9ed8"]},"legend":null}}},
{"data":{"name":"means"},"transform":[{"filter":"datum.p==='b'"}],"mark":{"type":"tick","orient":"horizontal","size":8,"thickness":1.5},
"encoding":{"x":{"field":"g","type":"nominal"},"y":{"field":"lo","type":"quantitative"},"color":{"field":"g","type":"nominal","legend":null}}},
{"data":{"name":"means"},"transform":[{"filter":"datum.p==='b'"}],"mark":{"type":"tick","orient":"horizontal","size":8,"thickness":1.5},
"encoding":{"x":{"field":"g","type":"nominal"},"y":{"field":"hi","type":"quantitative"},"color":{"field":"g","type":"nominal","legend":null}}},
{"data":{"name":"means"},"transform":[{"filter":"datum.p==='b'"}],"mark":{"type":"tick","orient":"horizontal","size":15,"thickness":2},
"encoding":{"x":{"field":"g","type":"nominal"},"y":{"field":"m","type":"quantitative"},"color":{"field":"g","type":"nominal","legend":null}}},
{"data":{"name":"sig"},"mark":{"type":"rule","strokeWidth":1.4,"color":"#222"},
"encoding":{"x":{"field":"from","type":"nominal","bandPosition":0.5},"x2":{"field":"to","bandPosition":0.5},"y":{"field":"lv","type":"quantitative"}}},
{"data":{"name":"stars"},"transform":[{"filter":"datum.pos==='edge'"}],"mark":{"type":"text","fontSize":30,"baseline":"alphabetic","dy":6,"color":"#222","text":"***"},
"encoding":{"x":{"field":"at","type":"nominal","bandPosition":1},"y":{"field":"lv","type":"quantitative"}}},
{"data":{"name":"stars"},"transform":[{"filter":"datum.pos==='mid'"}],"mark":{"type":"text","fontSize":30,"baseline":"alphabetic","dy":6,"color":"#222","text":"***"},
"encoding":{"x":{"field":"at","type":"nominal","bandPosition":0.5},"y":{"field":"lv","type":"quantitative"}}}
]}
]},
{"bounds":"flush","spacing":306.7,"resolve":{"scale":{"color":"independent","fill":"independent","stroke":"independent"}},
"vconcat":[
{"bounds":"flush","spacing":13.3,"resolve":{"scale":{"color":"independent","fill":"independent","stroke":"independent"}},
"title":{"text":"c","anchor":"start","frame":"bounds","fontSize":27,"fontWeight":"bold","font":"Liberation Sans","color":"#111","dx":8,"dy":23,"offset":-5},
"hconcat":[
{"width":166.7,"height":130,
"title":{"text":["Computed from 8 tasks","(FGA 1, 2, 3, 4, 8, 9, and 10)"],"anchor":"end","align":"center","frame":"group","dx":9,"fontSize":21.5,"lineHeight":24.5,"offset":76},
"layer":[
{"data":{"name":"dens"},"transform":[{"filter":"datum.p==='c'&&datum.s==='L'"}],"mark":{"type":"area","interpolate":"monotone","fillOpacity":0.35,"strokeWidth":1.3},
"encoding":{"x":{"field":"k","type":"quantitative","scale":{"domain":[0,100],"nice":false,"zero":false},"axis":{"values":[0,20,40,60,80,100],"tickCount":30,"labelOverlap":false,"labelFontSize":10,"labelColor":"#777","ticks":false,"labelPadding":3,"title":"Kinematic score","titleFontSize":20,"titlePadding":4,"titleColor":"#222","domainColor":"#aaa"}},
"y":{"field":"v","type":"quantitative","stack":null,"scale":{"domain":[0,50],"nice":false},"axis":{"values":[0,5,10,15,20,25,30,35,40,45,50],"tickCount":30,"labelOverlap":false,"labelExpr":"datum.value%10?'':datum.label","labelFontSize":16,"labelColor":"#333","tickSize":3,"tickColor":"#ccc","domainColor":"#bbb","title":null}},
"fill":{"field":"g","type":"nominal","scale":{"domain":["H","P","A","C"],"range":["#454545","#7ec37e","#ee6834","#73b5e0"]},"legend":null},
"stroke":{"field":"g","type":"nominal","scale":{"domain":["H","P","A","C"],"range":["#333333","#22a34a","#e2483c","#3a9fd6"]},"legend":null}}},
{"data":{"name":"mline"},"transform":[{"filter":"datum.p==='c'&&datum.s==='L'"}],"mark":{"type":"rule","strokeWidth":1,"opacity":0.55},
"encoding":{"x":{"field":"m","type":"quantitative"},"y":{"field":"z","type":"quantitative"},"y2":{"field":"h"},"color":{"field":"g","type":"nominal","scale":{"domain":["H","P","A","C"],"range":["#333333","#13a04a","#e8413c","#2f9fd8"]},"legend":null}}},
{"data":{"name":"arrows"},"transform":[{"filter":"datum.p==='c'&&datum.s==='L'"}],"mark":{"type":"rule","strokeWidth":2.6},
"encoding":{"x":{"field":"m","type":"quantitative"},"y":{"field":"top","type":"quantitative"},"y2":{"field":"tip"},"color":{"field":"g","type":"nominal","legend":null}}},
{"data":{"name":"arrows"},"transform":[{"filter":"datum.p==='c'&&datum.s==='L'"}],"mark":{"type":"point","shape":"M-1,-2L0,0L1,-2L0,-1.3Z","filled":true,"size":121,"opacity":1},
"encoding":{"x":{"field":"m","type":"quantitative"},"y":{"field":"tip","type":"quantitative"},"color":{"field":"g","type":"nominal","legend":null}}}
]},
{"width":165.7,"height":130,
"layer":[
{"data":{"name":"dens"},"transform":[{"filter":"datum.p==='c'&&datum.s==='R'"}],"mark":{"type":"area","interpolate":"monotone","fillOpacity":0.35,"strokeWidth":1.3},
"encoding":{"x":{"field":"k","type":"quantitative","scale":{"domain":[-1.5,100],"nice":false,"zero":false},"axis":{"values":[0,20,40,60,80,100],"tickCount":30,"labelOverlap":false,"labelFontSize":10,"labelColor":"#777","ticks":false,"labelPadding":3,"title":"Kinematic score","titleFontSize":20,"titlePadding":4,"titleColor":"#222","domainColor":"#aaa"}},
"y":{"field":"v","type":"quantitative","stack":null,"scale":{"domain":[0,50],"nice":false},"axis":{"values":[0,5,10,15,20,25,30,35,40,45,50],"tickCount":30,"labels":false,"tickSize":3,"tickColor":"#ccc","domainColor":"#bbb","title":null}},
"fill":{"field":"g","type":"nominal","scale":{"domain":["H","P","A","C"],"range":["#454545","#7ec37e","#ee6834","#73b5e0"]},"legend":null},
"stroke":{"field":"g","type":"nominal","scale":{"domain":["H","P","A","C"],"range":["#333333","#22a34a","#e2483c","#3a9fd6"]},"legend":null}}},
{"data":{"name":"mline"},"transform":[{"filter":"datum.p==='c'&&datum.s==='R'"}],"mark":{"type":"rule","strokeWidth":1,"opacity":0.55},
"encoding":{"x":{"field":"m","type":"quantitative"},"y":{"field":"z","type":"quantitative"},"y2":{"field":"h"},"color":{"field":"g","type":"nominal","scale":{"domain":["H","P","A","C"],"range":["#333333","#13a04a","#e8413c","#2f9fd8"]},"legend":null}}},
{"data":{"name":"arrows"},"transform":[{"filter":"datum.p==='c'&&datum.s==='R'"}],"mark":{"type":"rule","strokeWidth":2.6},
"encoding":{"x":{"field":"m","type":"quantitative"},"y":{"field":"top","type":"quantitative"},"y2":{"field":"tip"},"color":{"field":"g","type":"nominal","legend":null}}},
{"data":{"name":"arrows"},"transform":[{"filter":"datum.p==='c'&&datum.s==='R'"}],"mark":{"type":"point","shape":"M-1,-2L0,0L1,-2L0,-1.3Z","filled":true,"size":121,"opacity":1},
"encoding":{"x":{"field":"m","type":"quantitative"},"y":{"field":"tip","type":"quantitative"},"color":{"field":"g","type":"nominal","legend":null}}}
]}
]},
{"width":343,"height":190,
"layer":[
{"data":{"name":"pts"},"transform":[{"filter":"datum.p==='c'"}],"mark":{"type":"square","size":2.5,"opacity":1},
"encoding":{"x":{"field":"g","type":"nominal","bandPosition":0.62,"scale":{"type":"band","domain":["H","P","A","C"],"paddingInner":0,"paddingOuter":0.05,"align":0},"axis":{"labels":false,"ticks":false,"title":null,"domainColor":"#aaa"}},
"y":{"field":"s","type":"quantitative","scale":{"domain":[0,100],"nice":false},"axis":{"values":[0,10,20,30,40,50,60,70,80,90,100],"tickCount":30,"labelOverlap":false,"labelFontSize":14,"labelColor":"#555","tickSize":3,"tickColor":"#bbb","domainColor":"#aaa","title":null}},
"fill":{"field":"g","type":"nominal","scale":{"domain":["H","P","A","C"],"range":["#333333","#19a64b","#e6282d","#2a9ed8"]},"legend":null}}},
{"data":{"name":"means"},"transform":[{"filter":"datum.p==='c'"}],"mark":{"type":"rule","strokeWidth":3.2},
"encoding":{"x":{"field":"g","type":"nominal"},"y":{"field":"lo","type":"quantitative"},"y2":{"field":"hi"},"color":{"field":"g","type":"nominal","scale":{"domain":["H","P","A","C"],"range":["#333333","#19a64b","#e6282d","#2a9ed8"]},"legend":null}}},
{"data":{"name":"means"},"transform":[{"filter":"datum.p==='c'"}],"mark":{"type":"tick","orient":"horizontal","size":8,"thickness":1.5},
"encoding":{"x":{"field":"g","type":"nominal"},"y":{"field":"lo","type":"quantitative"},"color":{"field":"g","type":"nominal","legend":null}}},
{"data":{"name":"means"},"transform":[{"filter":"datum.p==='c'"}],"mark":{"type":"tick","orient":"horizontal","size":8,"thickness":1.5},
"encoding":{"x":{"field":"g","type":"nominal"},"y":{"field":"hi","type":"quantitative"},"color":{"field":"g","type":"nominal","legend":null}}},
{"data":{"name":"means"},"transform":[{"filter":"datum.p==='c'"}],"mark":{"type":"tick","orient":"horizontal","size":15,"thickness":2},
"encoding":{"x":{"field":"g","type":"nominal"},"y":{"field":"m","type":"quantitative"},"color":{"field":"g","type":"nominal","legend":null}}},
{"data":{"name":"sig"},"mark":{"type":"rule","strokeWidth":1.4,"color":"#222"},
"encoding":{"x":{"field":"from","type":"nominal","bandPosition":0.5},"x2":{"field":"to","bandPosition":0.5},"y":{"field":"lv","type":"quantitative"}}},
{"data":{"name":"stars"},"transform":[{"filter":"datum.pos==='edge'"}],"mark":{"type":"text","fontSize":30,"baseline":"alphabetic","dy":6,"color":"#222","text":"***"},
"encoding":{"x":{"field":"at","type":"nominal","bandPosition":1},"y":{"field":"lv","type":"quantitative"}}},
{"data":{"name":"stars"},"transform":[{"filter":"datum.pos==='mid'"}],"mark":{"type":"text","fontSize":30,"baseline":"alphabetic","dy":6,"color":"#222","text":"***"},
"encoding":{"x":{"field":"at","type":"nominal","bandPosition":0.5},"y":{"field":"lv","type":"quantitative"}}}
]}
]}
]
}
